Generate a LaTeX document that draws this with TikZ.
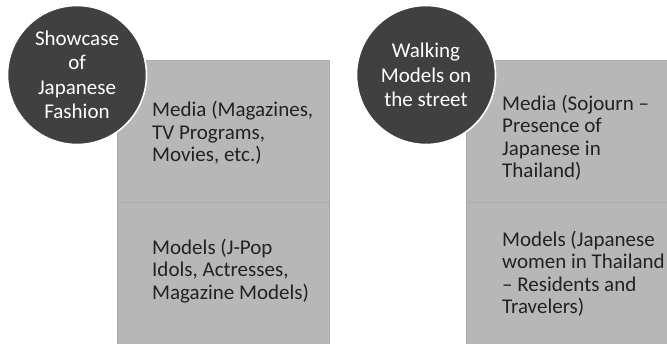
\documentclass[tikz,border=0pt]{standalone}
\usepackage{fontspec}
\setmainfont{Carlito}
\definecolor{boxfill}{HTML}{B7B7B7}
\definecolor{boxrule}{HTML}{ABABAB}
\definecolor{discfill}{HTML}{404040}
\definecolor{bodytext}{HTML}{222222}
\begin{document}
\begin{tikzpicture}[x=1pt,y=-1pt,
  panel/.style={fill=boxfill,draw=boxrule,line width=0.8pt},
  disc/.style={circle,fill=discfill,draw=white,line width=1.6pt,minimum size=139pt,inner sep=0pt},
  disctext/.style={text=white,align=center,font=\fontsize{21}{24.5}\selectfont},
  paneltext/.style={text=bodytext,align=left,anchor=west,inner sep=0pt,font=\fontsize{21}{22.5}\selectfont}]
\useasboundingbox (0,0) rectangle (667,343);
% left column
\draw[panel] (117,60) rectangle (329,202);
\draw[panel] (117,202) rectangle (329,345);
\node[paneltext] (mediaA) at (152,133) {Media (Magazines,\\TV Programs,\\Movies, etc.)};
\node[paneltext] (modelsA) at (152,271) {Models (J-Pop\\Idols, Actresses,\\Magazine Models)};
\node[disc] (showcase) at (77,75) {};
\node[disctext] at (showcase.center) {Showcase\\of\\Japanese\\Fashion};
% right column
\draw[panel] (466,60) rectangle (668,202);
\draw[panel] (466,202) rectangle (668,345);
\node[paneltext] (mediaB) at (502,138) {Media (Sojourn \textendash\\Presence of\\Japanese in\\Thailand)};
\node[paneltext] (modelsB) at (502,274) {Models (Japanese\\women in Thailand\\\textendash\ Residents and\\Travelers)};
\node[disc] (walking) at (426,75) {};
\node[disctext] at (walking.center) {Walking\\Models on\\the street};
\end{tikzpicture}
\end{document}
